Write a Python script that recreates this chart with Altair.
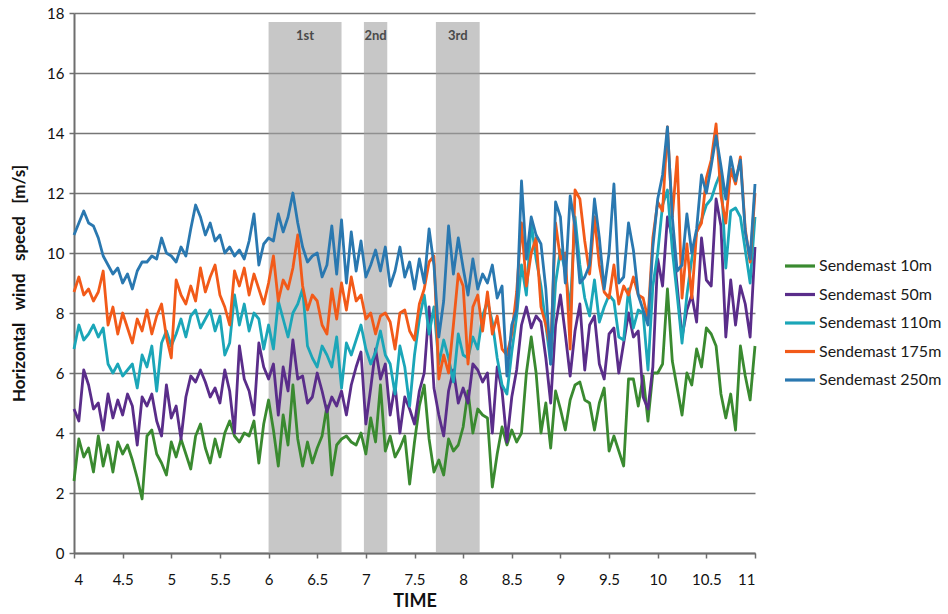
import altair as alt
import pandas as pd

# Sample times (hours), one reading every 0.05 h
t_start, t_step, n_points = 4.0, 0.05, 141
time_h = [round(t_start + i * t_step, 2) for i in range(n_points)]

mast_10m = [
    2.4, 3.8, 3.2, 3.5, 2.7, 3.9, 2.9, 3.6, 2.7, 3.7, 3.3, 3.6, 3.1, 2.5, 1.8, 3.9, 4.1, 3.3, 3.0, 2.6,
    3.7, 3.2, 3.8, 3.3, 2.8, 3.9, 4.3, 3.5, 3.0, 3.8, 3.2, 4.0, 4.4, 3.9, 3.7, 4.0, 3.9, 4.4, 3.0, 4.3, 5.1,
    4.1, 2.9, 4.6, 3.6, 5.6, 3.8, 2.9, 3.7, 3.0, 3.5, 3.9, 4.9, 2.6, 3.6, 3.8, 3.9, 3.7, 3.6, 4.0, 3.3,
    4.5, 3.7, 5.6, 3.4, 3.9, 3.2, 3.5, 3.9, 2.3, 3.7, 4.9, 5.6, 3.8, 2.7, 3.1, 2.6, 3.8, 3.4, 3.6, 4.2,
    5.4, 4.0, 4.8, 4.6, 4.5,
    2.2, 3.3, 4.2, 3.6, 4.1, 3.7, 4.0, 6.0, 7.2, 6.0, 4.0, 5.0, 3.5, 5.4, 4.8, 4.1, 5.1, 5.6, 5.7, 5.1,
    5.0, 4.1, 5.0, 5.5, 3.4, 3.9, 3.4, 2.9, 5.8, 5.8, 4.9, 5.9, 4.4, 6.0, 6.0, 6.3, 8.8, 6.4, 5.5, 4.6,
    6.0, 5.6, 6.8, 6.2, 7.5,
    7.3, 6.9, 5.3, 4.5, 5.3, 4.1, 6.9, 5.9, 5.1, 6.9,
]
mast_50m = [
    4.8, 4.4, 6.1, 5.6, 4.8, 5.0, 4.1, 5.3, 4.5, 5.1, 4.6, 5.3, 4.9, 3.6, 5.2, 4.9, 5.3, 4.4, 3.9, 5.6,
    4.5, 4.9, 3.8, 5.2, 5.9, 5.7, 6.1, 5.7, 5.2, 5.5, 5.0, 6.1, 5.4, 4.0, 6.9, 5.8, 5.4, 4.6, 7.0, 6.2, 5.8,
    6.3, 4.6, 6.2, 5.4, 7.1, 5.8, 5.9, 5.0, 5.2, 6.0, 5.4, 4.7, 5.2, 4.9, 5.4, 4.6, 5.6, 6.2, 6.7, 4.3,
    5.5, 6.8, 5.8, 6.3, 4.6, 5.6, 4.0, 5.2, 4.8, 4.3, 5.4, 6.0, 8.2, 5.5, 4.6, 3.9, 5.4, 6.1, 5.0, 5.5,
    5.0, 6.3, 6.1, 5.7, 6.0,
    4.0, 6.2, 5.4, 3.7, 5.2, 6.1, 7.6, 8.2, 7.5, 7.9, 7.7, 6.5, 5.0, 7.6, 8.6, 7.3, 5.9, 7.4, 8.3, 6.1,
    7.6, 7.9, 6.3, 5.8, 7.3, 7.5, 6.0, 7.0, 8.0, 7.2, 7.4, 5.2, 4.8, 6.2, 9.8, 8.9, 11.2, 10.5, 8.9, 7.2,
    8.1, 8.6, 7.7, 10.5, 9.1,
    8.9, 11.8, 10.9, 7.2, 9.1, 7.6, 8.9, 8.3, 7.2, 10.2,
]
mast_110m = [
    6.8, 7.6, 7.1, 7.3, 7.6, 7.2, 7.5, 6.3, 6.0, 6.3, 5.9, 6.1, 6.3, 5.5, 6.6, 6.2, 6.9, 5.4, 7.0, 7.4,
    6.9, 7.3, 7.8, 7.2, 7.9, 8.1, 7.5, 7.8, 8.1, 7.4, 7.9, 6.6, 7.0, 8.6, 7.6, 8.3, 7.4, 8.0, 7.8, 6.8, 7.6,
    6.8, 8.4, 7.8, 7.2, 8.0, 8.3, 8.8, 6.9, 6.5, 6.2, 6.9, 6.6, 6.2, 7.2, 5.5, 7.0, 6.6, 7.1, 7.6, 6.8,
    6.3, 6.7, 7.4, 6.6, 6.3, 5.3, 6.9, 6.2, 4.9, 6.6, 7.8, 8.6, 7.3, 8.2, 6.3, 7.1, 6.5, 5.7, 7.3, 6.6,
    6.5, 7.2, 6.8, 7.9, 8.4,
    7.7, 6.5, 5.6, 5.3, 6.7, 7.9, 9.6, 8.6, 11.0, 9.8, 8.9, 7.6, 6.3, 9.0, 10.1, 9.4, 8.1, 11.2, 9.6, 8.5,
    7.9, 9.1, 7.7, 8.2, 8.6, 8.4, 7.2, 7.1, 8.8, 7.5, 8.1, 8.0, 6.1, 8.9, 10.0, 11.6, 12.1, 10.1, 8.6, 7.0,
    8.6, 9.8, 10.7, 11.1, 11.6,
    11.8, 12.3, 12.7, 9.5, 11.4, 11.5, 11.2, 10.1, 9.0, 11.2,
]
mast_175m = [
    8.7, 9.2, 8.6, 8.8, 8.4, 8.7, 9.4, 7.6, 8.2, 7.3, 8.0, 7.5, 7.0, 7.8, 7.4, 8.1, 7.3, 7.9, 8.3, 7.2,
    6.5, 9.1, 8.6, 8.3, 8.9, 8.4, 9.5, 8.7, 9.2, 9.6, 8.6, 8.2, 7.6, 9.4, 8.9, 9.5, 8.6, 9.3, 8.8, 8.3, 9.0,
    9.9, 8.4, 9.1, 8.8, 9.5, 10.6, 8.9, 8.1, 8.6, 8.4, 7.6, 7.3, 8.8, 7.8, 9.0, 8.1, 9.2, 8.4, 8.6, 7.8,
    8.0, 7.3, 7.9, 8.0, 7.7, 6.8, 8.0, 8.1, 7.4, 7.1, 8.3, 8.8, 9.7, 9.9, 5.8, 6.6, 6.0, 7.6, 9.3, 8.9,
    6.3, 8.2, 8.6, 7.4, 8.7,
    7.3, 7.9, 6.8, 6.6, 7.3, 8.7, 11.0, 8.9, 10.0, 10.5, 8.2, 7.6, 6.8, 11.0, 9.8, 10.0, 6.8, 12.1, 11.8, 10.4,
    9.3, 11.2, 9.6, 8.7, 8.5, 9.6, 8.3, 8.9, 8.6, 9.2, 8.6, 8.5, 7.8, 10.5, 11.7, 11.4, 14.2, 11.2, 13.2, 8.5,
    10.3, 8.5, 10.7, 11.0, 12.5,
    13.1, 14.3, 11.9, 11.0, 12.8, 12.3, 13.2, 10.8, 9.7, 12.0,
]
mast_250m = [
    10.6, 11.0, 11.4, 11.0, 10.9, 10.5, 9.9, 9.6, 9.3, 9.5, 9.0, 9.3, 8.8, 9.4, 9.7, 9.7, 9.9, 9.8, 10.5, 10.0,
    9.9, 9.7, 10.2, 9.9, 10.8, 11.6, 11.2, 10.6, 11.0, 10.4, 10.6, 10.0, 10.2, 9.9, 10.1, 9.8, 10.4, 11.3, 9.6, 10.3, 10.5,
    10.4, 11.3, 10.7, 11.2, 12.0, 11.0, 10.2, 9.7, 9.9, 10.0, 9.2, 9.6, 10.9, 9.3, 11.1, 9.0, 10.7, 9.4, 10.4, 9.2,
    9.6, 10.1, 9.4, 10.2, 8.9, 9.4, 10.2, 9.2, 9.7, 8.8, 9.8, 9.0, 10.8, 9.6, 7.2, 8.4, 10.9, 9.3, 10.5, 9.5,
    8.6, 9.8, 8.8, 9.3, 9.0,
    9.6, 8.5, 8.9, 5.9, 7.6, 8.1, 12.4, 9.8, 11.2, 10.6, 10.3, 8.8, 6.3, 11.7, 11.2, 9.0, 11.9, 10.9, 9.0, 9.2,
    9.6, 11.8, 10.5, 8.8, 10.0, 12.3, 9.0, 9.2, 11.0, 10.1, 8.6, 8.1, 7.6, 10.2, 11.8, 12.6, 14.2, 11.2, 9.4, 9.6,
    11.3, 10.0, 10.8, 12.6, 12.0,
    12.9, 13.9, 12.9, 11.8, 13.2, 12.4, 13.1, 10.7, 9.8, 12.3,
]

series_names = ["Sendemast 10m", "Sendemast 50m", "Sendemast 110m", "Sendemast 175m", "Sendemast 250m"]
series_values = [mast_10m, mast_50m, mast_110m, mast_175m, mast_250m]
series_colors = ["#3a8a30", "#5a2d8a", "#1ba6b8", "#f25a19", "#2a78b0"]

# Shaded measurement windows
band_labels = ["1st", "2nd", "3rd"]
band_start = [6.0, 6.98, 7.72]
band_end = [6.75, 7.22, 8.17]
band_top = 17.7
label_level = 17.25

x_ticks = [4 + 0.5 * i for i in range(15)]
y_ticks = list(range(0, 20, 2))

rows = []
for name, vals in zip(series_names, series_values):
    for t, v in zip(time_h, vals):
        rows.append({"time": t, "speed": v, "series": name})
df = pd.DataFrame(rows)

bands = pd.DataFrame({
    "start": band_start,
    "end": band_end,
    "mid": [(a + b) / 2 for a, b in zip(band_start, band_end)],
    "label": band_labels,
    "bottom": [0] * 3,
    "top": [band_top] * 3,
    "level": [label_level] * 3,
})

x_scale = alt.Scale(domain=[4, 11], nice=False, zero=False)
y_scale = alt.Scale(domain=[0, 18], nice=False)

band_rects = alt.Chart(bands).mark_rect(color="#a2a2a2", opacity=0.6).encode(
    x=alt.X("start:Q", scale=x_scale),
    x2="end:Q",
    y=alt.Y("bottom:Q", scale=y_scale),
    y2="top:Q",
)

band_text = alt.Chart(bands).mark_text(
    font="Lato", fontSize=13, fontWeight="bold", color="#4a4a4a"
).encode(
    x=alt.X("mid:Q", scale=x_scale),
    y=alt.Y("level:Q", scale=y_scale),
    text="label:N",
)

lines = alt.Chart(df).mark_line(strokeWidth=2.8, strokeJoin="round").encode(
    x=alt.X(
        "time:Q",
        scale=x_scale,
        axis=alt.Axis(
            values=x_ticks, format="~g", title="TIME", grid=False,
            labelFontSize=15, labelPadding=14, tickSize=5, titlePadding=5,
            titleFontSize=18,
        ),
    ),
    y=alt.Y(
        "speed:Q",
        scale=y_scale,
        axis=alt.Axis(
            values=y_ticks,
            title="Horizontal\u00a0\u00a0 wind\u00a0\u00a0 speed\u00a0\u00a0 [m/s]",
            grid=True, labelFontSize=15, labelPadding=5, tickSize=5,
            titlePadding=18, titleFontSize=17,
        ),
    ),
    color=alt.Color(
        "series:N",
        scale=alt.Scale(domain=series_names, range=series_colors),
        legend=alt.Legend(
            title=None, orient="none", legendX=709, legendY=236,
            symbolType="stroke", symbolSize=900, symbolStrokeWidth=3.2,
            labelFont="Lato", labelFontSize=16, labelColor="#1a1a1a",
            rowPadding=3.5, labelOffset=2,
        ),
    ),
)

chart = alt.layer(band_rects, lines, band_text).properties(
    width=681,
    height=540,
    padding={"left": 74, "top": 13, "right": 193, "bottom": 61},
    autosize=alt.AutoSizeParams(type="none"),
).configure_view(
    strokeWidth=0
).configure_axis(
    labelFont="Lato",
    titleFont="Lato",
    titleFontWeight="bold",
    labelColor="#111111",
    titleColor="#111111",
    domainColor="#6e6e6e",
    domainWidth=2,
    tickColor="#6e6e6e",
    tickWidth=1.5,
    gridColor="#767676",
    gridWidth=1.6,
)

chart.save("out.html", embed_options={"renderer": "svg", "actions": False})
